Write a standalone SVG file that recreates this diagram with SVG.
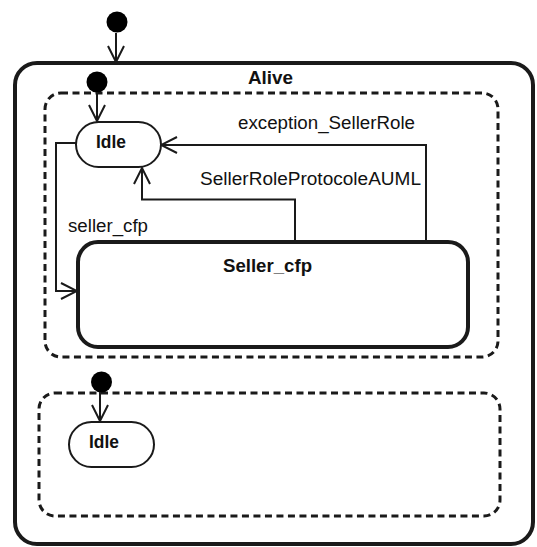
<svg xmlns="http://www.w3.org/2000/svg" width="537" height="547" viewBox="0 0 537 547">
<style>
.t{font-family:"Liberation Sans",Arial,sans-serif;font-size:18px;fill:#111}
.b{font-weight:bold}
.st{fill:#fff;stroke:#1a1a1a}
.dash{fill:none;stroke:#1a1a1a;stroke-width:3;stroke-dasharray:7 4.5}
.init{fill:#000}
.c{fill:none;stroke:#1a1a1a;stroke-width:2}
</style>
<defs>
<marker id="arr" viewBox="0 0 18 18" refX="17" refY="9" markerWidth="18" markerHeight="18" markerUnits="userSpaceOnUse" orient="auto">
<path d="M1,1 L17,9 L1,17" fill="none" stroke="#1a1a1a" stroke-width="2"/>
</marker>
</defs>
<g id="alive">
<rect class="st" x="15" y="63" width="518" height="481" rx="22" stroke-width="4"/>
<text class="t b" x="248" y="84" textLength="45" lengthAdjust="spacingAndGlyphs">Alive</text>
</g>
<g id="region1">
<rect class="dash" x="45" y="93" width="453" height="264" rx="16"/>
</g>
<g id="region2">
<rect class="dash" x="39" y="393" width="461" height="123" rx="16"/>
</g>
<g id="init0"><circle class="init" cx="117" cy="22" r="10.5"/></g>
<g id="init1"><circle class="init" cx="97" cy="82" r="10.5"/></g>
<g id="init2"><circle class="init" cx="101.5" cy="382" r="10.5"/></g>
<g id="idle1">
<rect class="st" x="76" y="122" width="85" height="45" rx="22.5" stroke-width="2"/>
<text class="t b" x="96" y="148" textLength="30" lengthAdjust="spacingAndGlyphs">Idle</text>
</g>
<g id="sellercfp">
<rect class="st" x="78" y="242" width="390" height="105" rx="20" stroke-width="4"/>
<text class="t b" x="223" y="272" textLength="89" lengthAdjust="spacingAndGlyphs">Seller_cfp</text>
</g>
<g id="idle2">
<rect class="st" x="69" y="422" width="85" height="45" rx="22.5" stroke-width="2"/>
<text class="t b" x="89" y="448" textLength="30" lengthAdjust="spacingAndGlyphs">Idle</text>
</g>
<g id="connectors">
<path class="c" d="M116,33 V62" marker-end="url(#arr)"/>
<path class="c" d="M97,92 V121" marker-end="url(#arr)"/>
<path class="c" d="M100,392 V421" marker-end="url(#arr)"/>
<path class="c" d="M76,143 H56 V291 H77" marker-end="url(#arr)"/>
<path class="c" d="M295,241 V199.5 H142 V168" marker-end="url(#arr)"/>
<path class="c" d="M426,241 V145 H161" marker-end="url(#arr)"/>
<text class="t" x="238" y="129" textLength="177" lengthAdjust="spacingAndGlyphs">exception_SellerRole</text>
<text class="t" x="200" y="185" textLength="221" lengthAdjust="spacingAndGlyphs">SellerRoleProtocoleAUML</text>
<text class="t" x="68" y="232" textLength="80" lengthAdjust="spacingAndGlyphs">seller_cfp</text>
</g>
</svg>
